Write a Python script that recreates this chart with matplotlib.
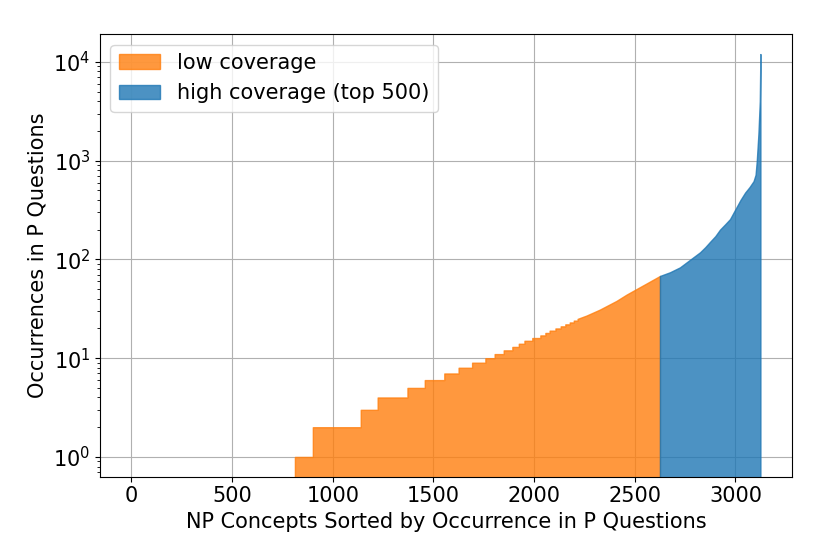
import numpy as np
import matplotlib
matplotlib.use("Agg")
import matplotlib.pyplot as plt

# concept index where the sorted count steps up to the next integer value
step_x = [812, 901, 1139, 1223, 1371, 1457, 1554, 1625, 1692, 1758, 1804, 1849,
          1892, 1924, 1952, 1991, 2031, 2056, 2077, 2106, 2132, 2155, 2177, 2197, 2216]
step_counts = list(range(1, 26))

# denser part of the low-coverage curve
curve_x = [2216, 2260, 2326, 2409, 2459, 2500, 2558, 2625]
curve_counts = [25, 27, 31, 38, 44, 49, 57, 68]

# top 500 concepts
high_x = [2625, 2674, 2724, 2774, 2824, 2850, 2873, 2900, 2923, 2950, 2973, 3000,
          3025, 3048, 3070, 3090, 3100, 3106, 3114, 3121, 3124]
high_counts = [68, 74, 83, 99, 118, 133, 150, 172, 200, 228, 256, 323,
               400, 475, 540, 620, 720, 1000, 1850, 4000, 12000]

plt.rcParams['font.size'] = 15

# staircase for the integer part, then the dense curve
sx = np.repeat(step_x, 2)[1:]
sy = np.repeat(step_counts, 2)[:-1]
low_x = np.concatenate([sx, curve_x[1:]])
low_y = np.concatenate([sy, curve_counts[1:]])

fig, ax = plt.subplots(figsize=(8.3, 5.52), dpi=100)
ax.fill_between(low_x, low_y, 0.1, color='tab:orange', alpha=0.8, label='low coverage')
ax.fill_between(high_x, high_counts, 0.1, color='tab:blue', alpha=0.8,
                label='high coverage (top 500)')
ax.set_yscale('log')
ax.set_ylim(10 ** -0.2, 10 ** 4.28)
ax.set_xlim(-156, 3280)
ax.set_xticks([0, 500, 1000, 1500, 2000, 2500, 3000])
ax.grid(True)
ax.set_axisbelow(True)
ax.set_xlabel('NP Concepts Sorted by Occurrence in P Questions')
ax.set_ylabel('Occurrences in P Questions')
ax.legend(loc='upper left')
fig.subplots_adjust(left=0.1205, right=0.954, top=0.938, bottom=0.1364)
fig.savefig('out.png', dpi=100)
